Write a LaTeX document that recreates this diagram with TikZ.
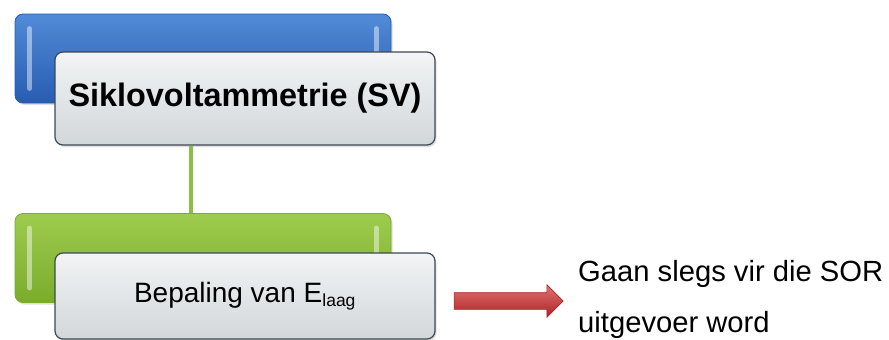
\documentclass[tikz,border=0pt]{standalone}
\usepackage{fontspec}
\setmainfont{Liberation Sans}
\usetikzlibrary{shapes.arrows,shadows}
\definecolor{barblue}{RGB}{62,126,210}
\definecolor{barbluedark}{RGB}{40,92,178}
\definecolor{bargreen}{RGB}{158,204,78}
\definecolor{bargreendark}{RGB}{122,172,44}
\definecolor{cardtop}{RGB}{242,244,245}
\definecolor{cardbot}{RGB}{210,215,218}
\definecolor{cardedge}{RGB}{62,72,82}
\definecolor{linkgreen}{RGB}{140,190,70}
\definecolor{arrowred}{RGB}{222,78,78}
\definecolor{arrowreddark}{RGB}{170,36,36}
\tikzset{
  backbar/.style  ={draw,rounded corners=8pt,minimum width=376pt,minimum height=89pt,
                    line width=0.8pt,drop shadow={opacity=0.25,shadow xshift=1.5pt,shadow yshift=-2pt}},
  cardbox/.style  ={draw=cardedge,line width=1.2pt,rounded corners=8pt,align=center,
                    minimum width=380pt,top color=cardtop,bottom color=cardbot,
                    drop shadow={opacity=0.25,shadow xshift=1.5pt,shadow yshift=-2pt}},
  bevel/.style    ={white,opacity=0.45,line width=5pt,line cap=round},
  link/.style     ={linkgreen,line width=4.5pt},
}
\begin{document}
\begin{tikzpicture}[x=1pt,y=-1pt,
  notetext/.style={align=left,inner sep=0pt,font=\fontsize{29.2}{51}\selectfont},
  pointer/.style={single arrow,draw=arrowreddark,line width=0.6pt,inner xsep=0pt,inner ysep=8pt,
                  single arrow head extend=8pt,minimum height=109pt,
                  top color=arrowred!80!white,bottom color=arrowreddark}]
\useasboundingbox (0,0) rectangle (889,340);
% ---- top pair : blue bar with card ----
\node[backbar,draw=barbluedark,top color=barblue!90!white,bottom color=barbluedark] (svbar) at (203,58.5) {};
\draw[bevel] ([xshift=15pt,yshift=-15pt]svbar.north west) -- ([xshift=15pt,yshift=15pt]svbar.south west);
\draw[bevel] ([xshift=-15pt,yshift=-15pt]svbar.north east) -- ([xshift=-15pt,yshift=15pt]svbar.south east);
\node[cardbox,minimum height=93pt,font=\bfseries\fontsize{32.4}{36}\selectfont] (svcard) at (245,98.5) {Siklovoltammetrie (SV)};
% ---- connector ----
\coordinate (linkx) at (191,0);
\node[backbar,draw=bargreendark,top color=bargreen,bottom color=bargreendark] (elbar) at (203,258) {};
\draw[bevel] ([xshift=15pt,yshift=-15pt]elbar.north west) -- ([xshift=15pt,yshift=15pt]elbar.south west);
\draw[bevel] ([xshift=-15pt,yshift=-15pt]elbar.north east) -- ([xshift=-15pt,yshift=15pt]elbar.south east);
\draw[link] (svcard.south -| linkx) -- (elbar.north -| linkx);
% ---- bottom card ----
\node[cardbox,minimum height=86pt,font=\fontsize{28}{34}\selectfont] (elcard) at (245,296)
  {Bepaling van E\textsubscript{\fontsize{17.5}{20}\selectfont laag}};
% ---- arrow and remark ----
\node[pointer] (ptr) at (504.5,301) {};
\node[notetext,anchor=base west] (remark) at (578,332) {Gaan slegs vir die SOR\\uitgevoer word};
\end{tikzpicture}
\end{document}
